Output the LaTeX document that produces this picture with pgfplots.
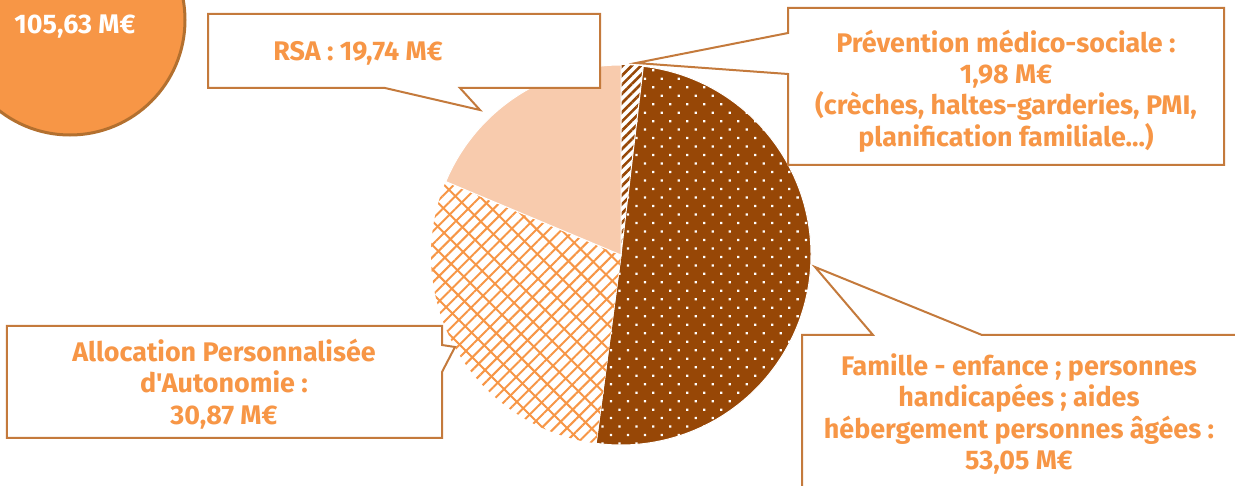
\documentclass[border=0pt]{standalone}
\usepackage{fontspec}
\newfontfamily\lab{Fira Sans}
\usepackage{pgfplots}
\usepackage{pgfplotstable}
\pgfplotsset{compat=1.18}
\usetikzlibrary{patterns.meta}

\definecolor{orng}{HTML}{F79646}
\definecolor{brwn}{HTML}{974706}
\definecolor{peach}{HTML}{F8CBAD}
\definecolor{edge}{HTML}{C47A3C}
\definecolor{ring}{HTML}{B3702F}

% budget social, M euros
\pgfplotstableread{
name value
prevention 1.98
famille 53.05
apa 30.87
rsa 19.74
}\budget
\pgfplotstablecreatecol[create col/expr accum={\pgfmathaccuma+\thisrow{value}}{0}]{cum}\budget
\pgfplotstablegetelem{3}{cum}\of\budget
\let\total\pgfplotsretval

\tikzset{
  s-prevention/.style={fill=white, postaction={pattern color=brwn, pattern={Lines[angle=45,distance=6.5bp,line width=2.6bp]}}},
  s-famille/.style={fill=brwn, postaction={pattern color=white, pattern={Dots[angle=45,distance=12bp,radius=1.6bp]}}},
  s-apa/.style={fill=white,
    postaction={pattern color=orng, pattern={Lines[angle=45,distance=9bp,line width=2bp]}},
    postaction={pattern color=orng, pattern={Lines[angle=-45,distance=17bp,line width=2bp]}}},
  s-rsa/.style={fill=peach},
  callout/.style={draw=edge, line width=2bp, fill=white, line join=miter},
  lbl/.style={text=orng, font=\lab\bfseries\fontsize{27}{31.5}\selectfont, align=center},
}

\begin{document}
\begin{tikzpicture}
\useasboundingbox (0,0) rectangle (1235bp,486bp);
\clip (0,0) rectangle (1235bp,486bp);
\begin{axis}[
    hide axis,
    x=1bp, y=1bp,
    xmin=0, xmax=1235,
    ymin=0, ymax=486,
    clip=false
]
\pgfplotsextra{
  \foreach \i in {0,...,3}{
    \pgfplotstablegetelem{\i}{name}\of\budget \edef\nm{\pgfplotsretval}
    \pgfplotstablegetelem{\i}{value}\of\budget \edef\val{\pgfplotsretval}
    \pgfplotstablegetelem{\i}{cum}\of\budget \edef\cm{\pgfplotsretval}
    \pgfmathsetmacro\aone{90-(\cm-\val)/\total*360}
    \pgfmathsetmacro\atwo{90-\cm/\total*360}
    \edef\slice{\noexpand\path[s-\nm, draw=white, line width=1bp]}
    \slice (axis cs:621,231) -- ++(\aone:190bp)
      arc[start angle=\aone, end angle=\atwo, radius=190bp] -- cycle;
  }
}

% callouts
\draw[callout] (axis cs:208,472) -- (axis cs:600,472) -- (axis cs:600,398) -- (axis cs:460,398)
  -- (axis cs:480,376) -- (axis cs:385,398) -- (axis cs:208,398) -- cycle;
\draw[callout] (axis cs:788,478) -- (axis cs:1224,478) -- (axis cs:1224,321) -- (axis cs:788,321)
  -- (axis cs:788,412) -- (axis cs:636,423) -- (axis cs:788,453) -- cycle;
\draw[callout] (axis cs:7,160) -- (axis cs:442,160) -- (axis cs:442,141) -- (axis cs:455,139)
  -- (axis cs:442,114) -- (axis cs:442,48) -- (axis cs:7,48) -- cycle;
\draw[callout] (axis cs:802,151) -- (axis cs:873,151) -- (axis cs:815,219) -- (axis cs:982,151)
  -- (axis cs:1270,151) -- (axis cs:1270,-40) -- (axis cs:802,-40) -- cycle;

\node[lbl] at (axis cs:358,433) {RSA : 19,74 M€};
\node[lbl] at (axis cs:1006,395) {Prévention médico-sociale :\\1,98 M€\\(crèches, haltes-garderies, PMI,\\planification familiale...)};
\node[lbl] at (axis cs:224,102) {Allocation Personnalisée\\d'Autonomie :\\30,87 M€};
\node[lbl] at (axis cs:1019,72) {Famille - enfance ; personnes\\handicapées ; aides\\hébergement personnes âgées :\\53,05 M€};

\draw[fill=orng, draw=ring, line width=3bp] (axis cs:70,466) circle[radius=115bp];
\node[lbl, text=white] at (axis cs:75,459) {105,63 M€};
\end{axis}
\end{tikzpicture}
\end{document}
